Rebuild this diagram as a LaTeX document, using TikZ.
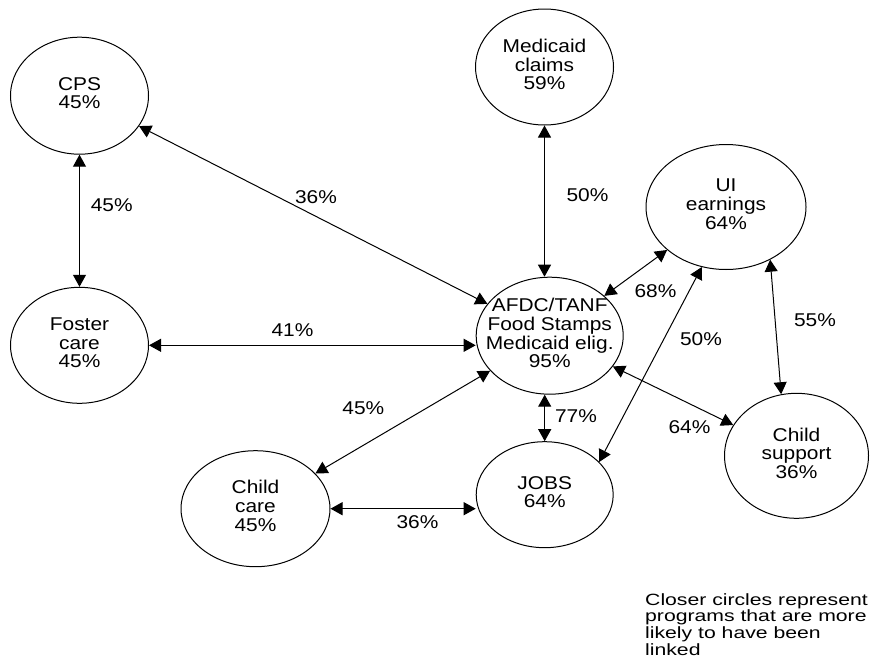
\documentclass[tikz,border=0pt]{standalone}
\usepackage{fontspec}
\setmainfont{Liberation Sans}[FakeStretch=1.13]
\newfontfamily\notefont{Liberation Sans}[FakeStretch=1.3]
\usepackage{tikz}
\usetikzlibrary{arrows.meta, shapes.geometric, calc}

% text centred in a circle without widening it
\newcommand{\ctext}[1]{\makebox[0pt]{\begin{tabular}{@{}c@{}}#1\end{tabular}}}

\begin{document}
\begin{tikzpicture}[
    x=1pt, y=-1pt,
    font=\fontsize{18.5}{18.7}\selectfont,
    >={Triangle[length=12pt, width=13pt]},
    prog/.style 2 args={draw, ellipse, line width=1pt, inner sep=0pt,
        minimum width=#1, minimum height=#2},
    link/.style={<->, line width=1pt},
    pct/.style={inner sep=0pt},
    note/.style={inner sep=0pt, align=left, anchor=north west,
        font=\notefont\fontsize{16.3}{16.7}\selectfont},
]
\useasboundingbox (0,0) rectangle (870,664);
%% Programs
\node[prog={138}{117}] (cps)    at (79.5, 95.7)  {\ctext{CPS\\45\%}};
\node[prog={138}{116}] (med)    at (544.5, 67)   {\ctext{Medicaid\\claims\\59\%}};
\node[prog={160}{125}] (ui)     at (726, 207)    {\ctext{UI\\earnings\\64\%}};
\node[prog={147}{117}] (afdc)   at (549.7, 335.7) {\ctext{AFDC/TANF\\Food Stamps\\Medicaid elig.\\95\%}};
\node[prog={138}{116}] (foster) at (79.5, 345.3) {\ctext{Foster\\care\\45\%}};
\node[prog={149}{116}] (cc)     at (255.5, 508.7) {\ctext{Child\\care\\45\%}};
\node[prog={137}{106}] (jobs)   at (544.7, 494.7) {\ctext{JOBS\\64\%}};
\node[prog={144}{125}] (cs)     at (796.5, 455.8) {\ctext{Child\\support\\36\%}};
%% Links
\draw[link] (cps) -- (foster);
\draw[link] (cps) -- (afdc);
\draw[link] (med.south) -- (med.south |- afdc.north);
\draw[link] (ui) -- (afdc);
\draw[link] (ui.248) -- (jobs.31);
\draw[link] (ui.310) -- (cs.104);
\draw[link] (afdc) -- (cs);
\draw[link] (jobs.north) -- (jobs.north |- afdc.south);
\draw[link] (foster.east) -- (foster.east -| afdc.west);
\draw[link] (afdc) -- (cc);
\draw[link] (cc.east) -- (cc.east -| jobs.west);
%% Shares linked
\node[pct] (p-cps-fos)  at (111.7, 205)   {45\%};
\node[pct] (p-cps-afdc) at (316, 197)     {36\%};
\node[pct] (p-med-afdc) at (587.5, 195.3) {50\%};
\node[pct] (p-ui-afdc)  at (655.5, 291)   {68\%};
\node[pct] (p-ui-jobs)  at (701, 339)     {50\%};
\node[pct] (p-ui-cs)    at (815, 320.3)   {55\%};
\node[pct] (p-afdc-job) at (576, 415.7)   {77\%};
\node[pct] (p-afdc-cs)  at (689.5, 427)   {64\%};
\node[pct] (p-fos-afdc) at (292.5, 330)   {41\%};
\node[pct] (p-afdc-cc)  at (363.3, 408)   {45\%};
\node[pct] (p-cc-jobs)  at (417.5, 521.7) {36\%};
%% Note
\node[note] (legend) at (645, 593) {Closer circles represent\\programs that are more\\likely to have been\\linked};
\end{tikzpicture}
\end{document}
